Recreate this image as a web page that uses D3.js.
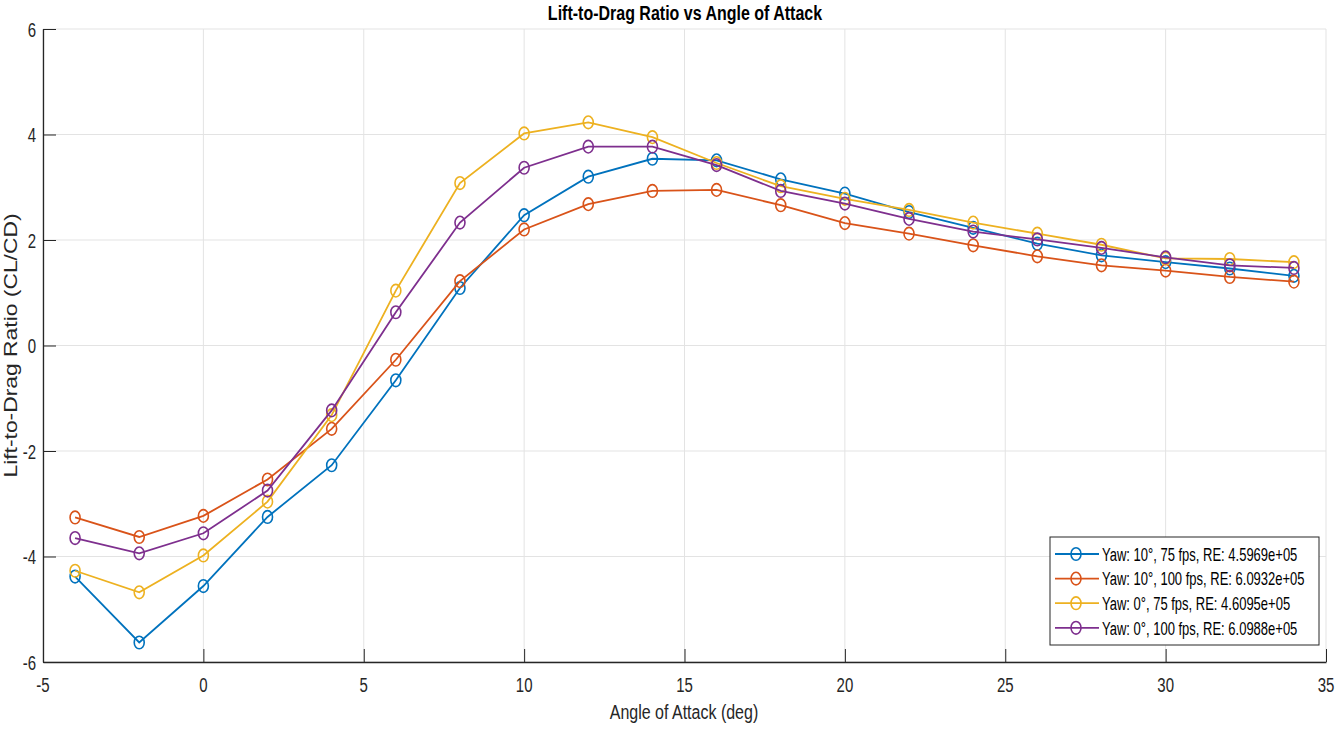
<!DOCTYPE html>
<html><head><meta charset="utf-8">
<script src="https://cdn.jsdelivr.net/npm/d3@7"></script>
<style>
body{margin:0;background:#fff;}
svg{display:block;}
</style></head>
<body><svg id="c" width="1336" height="730"></svg>
<script>
const angles = [-4,-2,0,2,4,6,8,10,12,14,16,18,20,22,24,26,28,30,32,34];
const yaw10_75  = [-4.38,-5.63,-4.56,-3.25,-2.27,-0.66,1.09,2.47,3.20,3.54,3.51,3.15,2.88,2.53,2.23,1.93,1.71,1.58,1.46,1.32];
const yaw10_100 = [-3.26,-3.63,-3.23,-2.54,-1.58,-0.27,1.22,2.20,2.68,2.93,2.95,2.66,2.32,2.12,1.90,1.69,1.52,1.42,1.30,1.21];
const yaw0_75   = [-4.27,-4.68,-3.98,-2.96,-1.32,1.04,3.08,4.02,4.23,3.95,3.46,3.02,2.78,2.57,2.33,2.12,1.91,1.65,1.64,1.58];
const yaw0_100  = [-3.65,-3.94,-3.56,-2.75,-1.23,0.63,2.33,3.37,3.77,3.77,3.42,2.93,2.69,2.40,2.16,2.01,1.85,1.67,1.52,1.47];
const seriesNames = ["Yaw: 10°, 75 fps, RE: 4.5969e+05","Yaw: 10°, 100 fps, RE: 6.0932e+05","Yaw: 0°, 75 fps, RE: 4.6095e+05","Yaw: 0°, 100 fps, RE: 6.0988e+05"];
const seriesColors = ["#0072BD","#D95319","#EDB120","#7E2F8E"];
const xTicks = [-5,0,5,10,15,20,25,30,35];
const yTicks = [-6,-4,-2,0,2,4,6];
const titleText = "Lift-to-Drag Ratio vs Angle of Attack";
const xLabel = "Angle of Attack (deg)";
const yLabel = "Lift-to-Drag Ratio (CL/CD)";

const series = [yaw10_75,yaw10_100,yaw0_75,yaw0_100];
const W=1336,H=730, m={l:43,r:10,t:29,b:68};
const svg=d3.select("#c");
const x=d3.scaleLinear().domain([-5,35]).range([m.l,W-m.r]);
const y=d3.scaleLinear().domain([-6,6]).range([H-m.b,m.t]);
const font="'Liberation Sans',Arial,sans-serif";
const axisCol="#262626";

function txt(parent,tx,ty,str,size,anchor,sy,weight,color){
  return parent.append("text")
    .attr("transform",`translate(${tx},${ty}) scale(1,${sy})`)
    .attr("text-anchor",anchor)
    .style("font-family",font).style("font-size",size+"px")
    .style("font-weight",weight||"normal")
    .attr("fill",color||axisCol).text(str);
}

// grid
const g=svg.append("g");
g.selectAll(".vg").data(xTicks).join("line").attr("x1",d=>x(d)).attr("x2",d=>x(d)).attr("y1",m.t).attr("y2",H-m.b).attr("stroke","#e3e3e3").attr("stroke-width",1);
g.selectAll(".hg").data(yTicks).join("line").attr("x1",m.l).attr("x2",W-m.r).attr("y1",d=>y(d)).attr("y2",d=>y(d)).attr("stroke","#e3e3e3").attr("stroke-width",1);

// axes (ticks inward, labels drawn separately)
const xa=svg.append("g").attr("transform",`translate(0,${H-m.b})`)
 .call(d3.axisBottom(x).tickValues(xTicks).tickSizeInner(-13).tickSizeOuter(0).tickFormat(""));
const ya=svg.append("g").attr("transform",`translate(${m.l},0)`)
 .call(d3.axisLeft(y).tickValues(yTicks).tickSizeInner(-13).tickSizeOuter(0).tickFormat(""));
[xa,ya].forEach(a=>{
  a.select(".domain").attr("stroke",axisCol).attr("stroke-width",1.3);
  a.selectAll(".tick line").attr("stroke",axisCol).attr("stroke-width",1);
  a.selectAll(".tick text").remove();
});
const tl=svg.append("g");
xTicks.forEach(v=>txt(tl,x(v),692,String(v),15,"middle",1.4));
yTicks.forEach(v=>txt(tl,36,y(v)+7.5,String(v),15,"end",1.4));

// lines
const line=d3.line().x((d,i)=>x(angles[i])).y(d=>y(d));
series.forEach((s,k)=>{
  svg.append("path").datum(s).attr("d",line).attr("fill","none").attr("stroke",seriesColors[k]).attr("stroke-width",1.8);
  svg.append("g").selectAll("ellipse").data(s).join("ellipse")
    .attr("cx",(d,i)=>x(angles[i])).attr("cy",d=>y(d)).attr("rx",5).attr("ry",6.3)
    .attr("fill","none").attr("stroke",seriesColors[k]).attr("stroke-width",1.6);
});

// title & labels
txt(svg,685,20,titleText,16,"middle",1.3,"bold","#000");
txt(svg,684,719,xLabel,16,"middle",1.3);
svg.append("text").attr("transform",`translate(16.5,${y(0)}) rotate(-90) scale(1.27,1)`)
  .attr("text-anchor","middle").style("font-family",font).style("font-size","18px").attr("fill",axisCol).text(yLabel);

// legend
const lg=svg.append("g");
const lx=1050, ly=537, lw=269, lh=108;
lg.append("rect").attr("x",lx).attr("y",ly).attr("width",lw).attr("height",lh).attr("fill","#fff").attr("stroke",axisCol).attr("stroke-width",1);
seriesNames.forEach((n,k)=>{
  const cy=ly+17+k*24.6;
  lg.append("line").attr("x1",lx+5).attr("x2",lx+49).attr("y1",cy).attr("y2",cy).attr("stroke",seriesColors[k]).attr("stroke-width",1.8);
  lg.append("ellipse").attr("cx",lx+26).attr("cy",cy).attr("rx",5).attr("ry",6.3).attr("fill","none").attr("stroke",seriesColors[k]).attr("stroke-width",1.6);
  txt(lg,lx+52,cy+6.8,n,13,"start",1.45,"normal","#000");
});
</script></body></html>
